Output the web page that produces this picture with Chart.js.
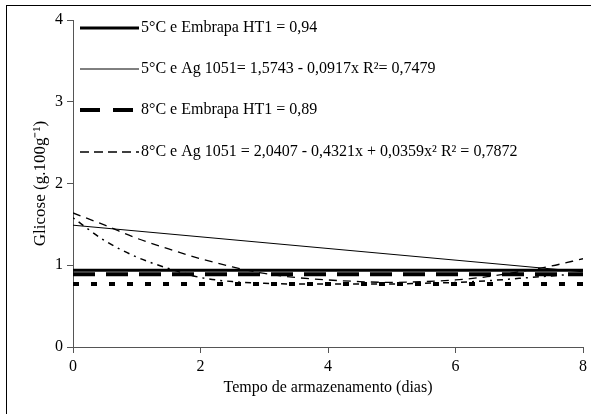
<!DOCTYPE html>
<html>
<head>
<meta charset="utf-8">
<script src="https://cdn.jsdelivr.net/npm/chart.js@4/dist/chart.umd.min.js"></script>
<style>
  html, body { margin: 0; padding: 0; background: #fff; }
  #wrap { width: 591px; height: 414px; position: relative; }
</style>
</head>
<body>
<div id="wrap"><canvas id="glicose-chart" width="591" height="414"></canvas></div>
<script>
// storage days (x) and glucose values
const diasReta = [0, 8];
const diasCurva = [0, 0.5, 1, 1.5, 2, 2.5, 3, 3.5, 4, 4.5, 5, 5.5, 6, 6.5, 7, 7.5, 8];

const embrapa5 = [0.94, 0.94];
const ag5 = [1.49, 0.92];
const embrapa8 = [0.89, 0.89];
const ag8 = [1.64, 1.49, 1.33, 1.2, 1.08, 0.98, 0.9, 0.85, 0.82, 0.8, 0.79, 0.8, 0.82, 0.86, 0.92, 0.99, 1.08];
const embrapa12 = [0.77, 0.77];
const ag12 = [1.58, 1.3, 1.1, 0.96, 0.85, 0.8, 0.78, 0.77, 0.77, 0.77, 0.77, 0.78, 0.79, 0.81, 0.84, 0.87, 0.9];

const legendas = [
  "5°C e Embrapa HT1 = 0,94",
  "5°C e Ag 1051= 1,5743 - 0,0917x R²= 0,7479",
  "8°C e Embrapa HT1 = 0,89",
  "8°C e Ag 1051 = 2,0407 - 0,4321x + 0,0359x² R² = 0,7872",
  "",
  ""
];

const yTicks = [0, 1, 2, 3, 4];
const xTicks = [0, 2, 4, 6, 8];

const serif = '"Liberation Serif", serif';

function pontos(xs, ys) {
  return xs.map(function (x, i) {
    return { x: x, y: ys[i] };
  });
}

// frame round the whole figure
const moldura = {
  id: "moldura",
  beforeDraw: function (chart) {
    const c = chart.ctx;
    c.save();
    c.fillStyle = "#fff";
    c.fillRect(0, 0, chart.width, chart.height);
    c.strokeStyle = "#000";
    c.lineWidth = 1;
    c.strokeRect(6.5, 5.5, 700, 500);
    c.restore();
  },
};

// legend drawn inside the plot area, top left
const legendaInterna = {
  id: "legendaInterna",
  afterDatasetsDraw: function (chart) {
    const c = chart.ctx;
    const rows = [28, 69, 110, 152];
    c.save();
    chart.data.datasets.forEach(function (ds, i) {
      if (!ds.label) return;
      const y = rows[i];
      c.beginPath();
      c.strokeStyle = "#000";
      c.lineWidth = ds.borderWidth;
      c.setLineDash(ds.legendDash || ds.borderDash || []);
      c.moveTo(80, y);
      c.lineTo(139, y);
      c.stroke();
      c.setLineDash([]);
      c.fillStyle = "#000";
      c.font = '16px "Liberation Serif"';
      c.textBaseline = "middle";
      c.textAlign = "left";
      c.fillText(ds.label, 141, y);
    });
    c.restore();
  },
};

const ctx = document.getElementById("glicose-chart").getContext("2d");
new Chart(ctx, {
  type: "line",
  data: {
    datasets: [
      {
        label: legendas[0],
        data: pontos(diasReta, embrapa5),
        borderColor: "#000",
        borderWidth: 3,
      },
      {
        label: legendas[1],
        data: pontos(diasReta, ag5),
        borderColor: "#000",
        borderWidth: 1,
      },
      {
        label: legendas[2],
        data: pontos(diasReta, embrapa8),
        borderColor: "#000",
        borderWidth: 4,
        borderDash: [22, 11],
        legendDash: [20, 13],
      },
      {
        label: legendas[3],
        data: pontos(diasCurva, ag8),
        borderColor: "#000",
        borderWidth: 1.3,
        borderDash: [8, 6],
        legendDash: [9, 5],
        cubicInterpolationMode: "monotone",
      },
      {
        label: legendas[4],
        data: pontos(diasReta, embrapa12),
        borderColor: "#000",
        borderWidth: 4,
        borderDash: [6, 12],
      },
      {
        label: legendas[5],
        data: pontos(diasCurva, ag12),
        borderColor: "#000",
        borderWidth: 1.5,
        borderDash: [2, 5, 6, 5],
        cubicInterpolationMode: "monotone",
      },
    ],
  },
  options: {
    responsive: false,
    animation: false,
    layout: { padding: { left: 30, top: 20, right: 4, bottom: 17 } },
    elements: { point: { radius: 0 }, line: { fill: false } },
    plugins: {
      legend: { display: false },
      tooltip: { enabled: false },
    },
    scales: {
      x: {
        type: "linear",
        min: 0,
        max: 8,
        afterFit: function (scale) { scale.height = 50; },
        afterBuildTicks: function (scale) {
          scale.ticks = xTicks.map(function (v) { return { value: v }; });
        },
        grid: {
          display: true,
          drawOnChartArea: false,
          drawTicks: true,
          tickLength: 6,
          color: "#555",
        },
        border: { color: "#555", width: 1 },
        ticks: {
          color: "#000",
          font: { family: serif, size: 16 },
          padding: 4,
          maxRotation: 0,
        },
        title: {
          display: true,
          text: "Tempo de armazenamento (dias)",
          color: "#000",
          font: { family: serif, size: 16 },
          padding: { top: 0, bottom: 0 },
        },
      },
      y: {
        min: 0,
        max: 4,
        afterFit: function (scale) { scale.width = 43; },
        afterBuildTicks: function (scale) {
          scale.ticks = yTicks.map(function (v) { return { value: v }; });
        },
        grid: {
          display: true,
          drawOnChartArea: false,
          drawTicks: true,
          tickLength: 6,
          color: "#555",
        },
        border: { color: "#555", width: 1 },
        ticks: {
          color: "#000",
          font: { family: serif, size: 16 },
          padding: 4,
        },
        title: {
          display: true,
          text: "Glicose (g.100g⁻¹)",
          color: "#000",
          font: { family: serif, size: 17 },
          padding: { top: 0, bottom: 0 },
        },
      },
    },
  },
  plugins: [moldura, legendaInterna],
});
</script>
</body>
</html>
